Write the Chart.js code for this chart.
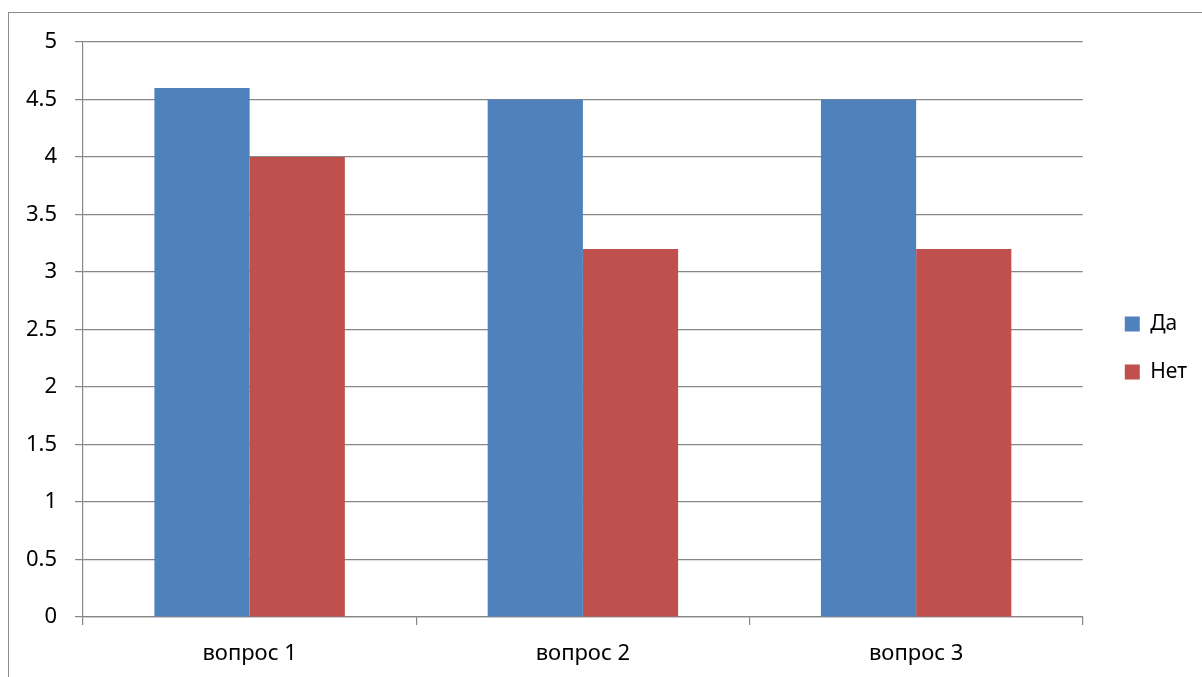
<!DOCTYPE html>
<html>
<head>
<meta charset="utf-8">
<script src="https://cdn.jsdelivr.net/npm/chart.js@4"></script>
<style>
  html, body { margin: 0; padding: 0; background: #fff; overflow: hidden; }
  #wrap { position: relative; width: 1202px; height: 677px; }
  #frame { position: absolute; left: 8px; top: 12px; width: 1300px; height: 800px; border: 1px solid #8c8c8c; box-sizing: border-box; }
  #myChart { position: absolute; left: 0; top: 0; }
</style>
</head>
<body>
<div id="wrap">
  <div id="frame"></div>
  <canvas id="myChart" width="1202" height="677"></canvas>
</div>
<script>
const categories = ['вопрос 1', 'вопрос 2', 'вопрос 3'];
const yesValues = [4.6, 4.5, 4.5];
const noValues = [4.0, 3.2, 3.2];
const yTickLabels = ['0', '0.5', '1', '1.5', '2', '2.5', '3', '3.5', '4', '4.5', '5'];

const gridColor = '#878787';
const font = { family: '"Noto Sans", sans-serif', size: 22 };

// move the legend a bit closer to the plot, like in the Excel chart
const legendShift = {
  id: 'legendShift',
  afterLayout(chart) {
    const lg = chart.legend;
    lg.left += 15;
    lg.right += 15;
    lg.top -= 23;
  }
};

const ctx = document.getElementById('myChart');

new Chart(ctx, {
  type: 'bar',
  data: {
    labels: categories,
    datasets: [{
      label: 'Да',
      data: yesValues,
      backgroundColor: '#4F81BD',
    }, {
      label: 'Нет',
      data: noValues,
      backgroundColor: '#C0504D',
    }]
  },
  options: {
    responsive: false,
    animation: false,
    devicePixelRatio: 1,
    categoryPercentage: 2 / 3.5,
    barPercentage: 1,
    layout: {
      padding: { top: 42, left: 0, right: 20, bottom: 0 }
    },
    plugins: {
      legend: {
        position: 'right',
        labels: {
          color: '#000',
          font: { family: font.family, size: 21, lineHeight: 1 },
          boxWidth: 15,
          boxHeight: 15,
          padding: 27
        }
      },
      tooltip: { enabled: false }
    },
    scales: {
      y: {
        min: 0,
        max: 5,
        afterFit(scale) { scale.width = 83; },
        afterBuildTicks(scale) {
          scale.ticks = yTickLabels.map(function (t) { return { value: parseFloat(t) }; });
        },
        ticks: {
          color: '#000',
          font: font,
          padding: 18,
          callback: function (v, i) { return yTickLabels[i]; }
        },
        grid: {
          color: gridColor,
          lineWidth: 1.2,
          tickLength: 8
        },
        border: { color: gridColor, width: 1.2 }
      },
      x: {
        afterFit(scale) { scale.height = 60; },
        ticks: {
          color: '#000',
          font: font,
          padding: 16
        },
        grid: {
          display: true,
          drawOnChartArea: false,
          drawTicks: true,
          tickLength: 8,
          color: gridColor,
          lineWidth: 1.2
        },
        border: { color: gridColor, width: 1.2 }
      }
    }
  },
  plugins: [legendShift]
});
</script>
</body>
</html>
